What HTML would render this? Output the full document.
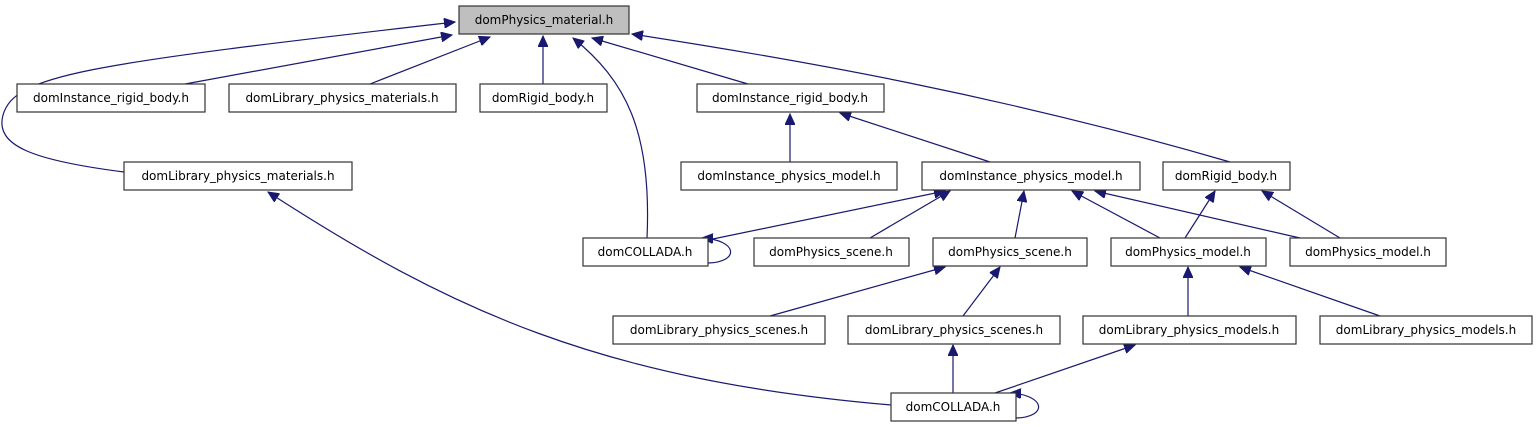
<!DOCTYPE html>
<html><head><meta charset="utf-8"><style>
html,body{margin:0;padding:0;background:#fff;}
svg{display:block;}
text{font-family:"DejaVu Sans","Liberation Sans",sans-serif;font-size:12px;fill:#000;text-anchor:middle;}
.b{fill:#fff;stroke:#333;stroke-width:1.2;}
.e{fill:none;stroke:#191970;stroke-width:1.2;}
</style></head><body>
<svg width="1539" height="427" viewBox="0 0 1539 427">
<defs>
<marker id="a" markerUnits="userSpaceOnUse" markerWidth="12" markerHeight="10" refX="11" refY="5" orient="auto">
<path d="M0,0 L11,5 L0,10 Z" fill="#191970" stroke="#191970"/>
</marker>
</defs>
<g class="e">
<path d="M185,84 L452,35" marker-end="url(#a)"/>
<path d="M370,84 L490,37" marker-end="url(#a)"/>
<path d="M543,84 L543,36" marker-end="url(#a)"/>
<path d="M647,238 C652,130 625,80 573,38" marker-end="url(#a)"/>
<path d="M748,84 L592,38" marker-end="url(#a)"/>
<path d="M1230,162 C1000,95 800,60 632,34" marker-end="url(#a)"/>
<path d="M124,172 C30,160 -5,145 3,115 C15,75 80,65 455,22" marker-end="url(#a)"/>
<path d="M790,162 L790,114" marker-end="url(#a)"/>
<path d="M990,162 L840,113" marker-end="url(#a)"/>
<path d="M708,240 L945,191" marker-end="url(#a)"/>
<path d="M870,238 L950,191" marker-end="url(#a)"/>
<path d="M1015,238 L1024,191" marker-end="url(#a)"/>
<path d="M1160,238 L1072,191" marker-end="url(#a)"/>
<path d="M1300,238 L1095,191" marker-end="url(#a)"/>
<path d="M1185,238 L1215,191" marker-end="url(#a)"/>
<path d="M1340,238 L1262,191" marker-end="url(#a)"/>
<path d="M770,316 L945,267" marker-end="url(#a)"/>
<path d="M963,316 L1000,267" marker-end="url(#a)"/>
<path d="M1188,316 L1188,267" marker-end="url(#a)"/>
<path d="M1380,316 L1240,267" marker-end="url(#a)"/>
<path d="M953,393 L953,345" marker-end="url(#a)"/>
<path d="M995,393 L1135,345" marker-end="url(#a)"/>
<path d="M891,405 C600,380 450,310 268,192" marker-end="url(#a)"/>
<path d="M708,263 C740,262 738,240 702,238" marker-end="url(#a)"/>
<path d="M1016,418 C1048,417 1046,395 1010,393" marker-end="url(#a)"/>
</g>
<rect x="459" y="6" width="170" height="28" fill="#bfbfbf" stroke="#333" stroke-width="1.2"/>
<text x="544" y="24">domPhysics_material.h</text>
<rect class="b" x="17" y="84" width="188" height="28"/><text x="111" y="102">domInstance_rigid_body.h</text>
<rect class="b" x="229" y="84" width="227" height="28"/><text x="342" y="102">domLibrary_physics_materials.h</text>
<rect class="b" x="480" y="84" width="127" height="28"/><text x="543" y="102">domRigid_body.h</text>
<rect class="b" x="697" y="84" width="187" height="28"/><text x="790" y="102">domInstance_rigid_body.h</text>
<rect class="b" x="124" y="162" width="228" height="28"/><text x="238" y="180">domLibrary_physics_materials.h</text>
<rect class="b" x="681" y="162" width="216" height="28"/><text x="789" y="180">domInstance_physics_model.h</text>
<rect class="b" x="922" y="162" width="218" height="28"/><text x="1031" y="180">domInstance_physics_model.h</text>
<rect class="b" x="1163" y="162" width="127" height="28"/><text x="1226" y="180">domRigid_body.h</text>
<rect class="b" x="583" y="238" width="125" height="28"/><text x="645" y="256">domCOLLADA.h</text>
<rect class="b" x="754" y="238" width="155" height="28"/><text x="831" y="256">domPhysics_scene.h</text>
<rect class="b" x="933" y="238" width="154" height="28"/><text x="1010" y="256">domPhysics_scene.h</text>
<rect class="b" x="1111" y="238" width="155" height="28"/><text x="1188" y="256">domPhysics_model.h</text>
<rect class="b" x="1290" y="238" width="156" height="28"/><text x="1368" y="256">domPhysics_model.h</text>
<rect class="b" x="613" y="316" width="212" height="28"/><text x="719" y="334">domLibrary_physics_scenes.h</text>
<rect class="b" x="848" y="316" width="212" height="28"/><text x="954" y="334">domLibrary_physics_scenes.h</text>
<rect class="b" x="1083" y="316" width="213" height="28"/><text x="1189" y="334">domLibrary_physics_models.h</text>
<rect class="b" x="1320" y="316" width="212" height="28"/><text x="1426" y="334">domLibrary_physics_models.h</text>
<rect class="b" x="891" y="393" width="125" height="28"/><text x="953" y="411">domCOLLADA.h</text>
</svg>
</body></html>
